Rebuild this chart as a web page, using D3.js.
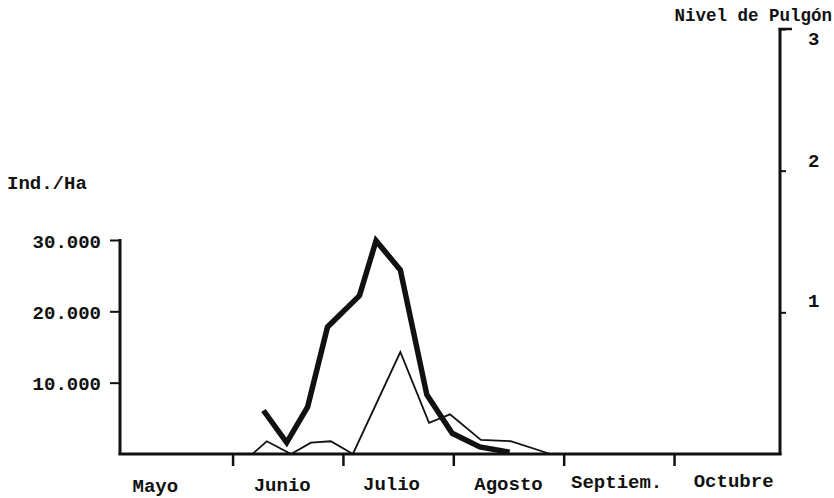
<!DOCTYPE html>
<html>
<head>
<meta charset="utf-8">
<script src="https://cdn.jsdelivr.net/npm/d3@7"></script>
<style>
  html, body { margin: 0; padding: 0; background: #fff; }
  svg { display: block; }
  text { font-family: "Liberation Mono", "DejaVu Sans Mono", monospace; font-weight: bold; fill: #111; }
</style>
</head>
<body>
<svg id="chart" width="834" height="498"></svg>
<script>
// ---- Data ----
const months = ["Mayo", "Junio", "Julio", "Agosto", "Septiem.", "Octubre"];
const monthTicks = [1, 2, 3, 4, 5];               // month boundaries (months since 1 May)
const leftTicks = [10000, 20000, 30000];
const leftTickLabels = ["10.000", "20.000", "30.000"];
const rightTicks = [1, 2, 3];
// thick line: Ind./Ha (x = months since start of May)
const thickX = [1.28, 1.49, 1.68, 1.86, 2.15, 2.30, 2.52, 2.76, 2.99, 3.24, 3.51];
const thickY = [6100, 1600, 6600, 17800, 22200, 29900, 25800, 8300, 2900, 1000, 250];
// thin line: Nivel de Pulgón
const thinX = [1.18, 1.31, 1.53, 1.71, 1.89, 2.09, 2.52, 2.78, 2.97, 3.25, 3.52, 3.88];
const thinY = [0, 0.09, 0, 0.08, 0.09, 0, 0.72, 0.22, 0.28, 0.10, 0.09, 0];

const svg = d3.select("#chart");

const x = d3.scaleLinear().domain([-0.02, 5.96]).range([120, 780]);
const yL = d3.scaleLinear().domain([0, 30000]).range([454, 240]);
const yR = d3.scaleLinear().domain([0, 3]).range([454, 29]);

const ink = "#111";

// left axis
const gL = svg.append("g").attr("transform", `translate(${x(-0.02)},0)`)
  .call(d3.axisLeft(yL).tickValues(leftTicks).tickSize(10).tickPadding(9)
    .tickFormat((d, i) => leftTickLabels[i]).tickSizeOuter(0));
gL.select(".domain").remove();
gL.selectAll(".tick line").attr("stroke", ink).attr("stroke-width", 2);
gL.selectAll(".tick text").attr("font-size", 19).attr("font-family", null).attr("dy", "0.38em");
svg.append("line").attr("x1", x(-0.02)).attr("x2", x(-0.02))
  .attr("y1", yL(30000) - 1).attr("y2", yL(0) + 1).attr("stroke", ink).attr("stroke-width", 3);

// right axis
const rightDy = [-6, -4, 15];
const gR = svg.append("g").attr("transform", `translate(${x(5.96)},0)`)
  .call(d3.axisRight(yR).tickValues(rightTicks).tickSize(6).tickPadding(22)
    .tickFormat(d3.format("d")).tickSizeOuter(0));
gR.select(".domain").remove();
gR.selectAll(".tick line").attr("stroke", ink).attr("stroke-width", 2);
gR.selectAll(".tick text").attr("font-size", 19).attr("font-family", null)
  .attr("dy", (d, i) => rightDy[i]);
svg.append("line").attr("x1", x(5.96)).attr("x2", x(5.96))
  .attr("y1", yR(3) - 1).attr("y2", yR(0) + 1).attr("stroke", ink).attr("stroke-width", 3);
svg.append("line").attr("x1", x(5.96) - 1.5).attr("x2", x(5.96) + 12)
  .attr("y1", yR(3)).attr("y2", yR(3)).attr("stroke", ink).attr("stroke-width", 2.5);

// bottom axis
const gB = svg.append("g").attr("transform", `translate(0,${yL(0)})`)
  .call(d3.axisBottom(x).tickValues(monthTicks).tickSize(12).tickFormat("").tickSizeOuter(0));
gB.select(".domain").remove();
gB.selectAll(".tick line").attr("stroke", ink).attr("stroke-width", 2.5);
svg.append("line").attr("x1", x(-0.02) - 1.5).attr("x2", x(5.96) + 1.5)
  .attr("y1", yL(0)).attr("y2", yL(0)).attr("stroke", ink).attr("stroke-width", 3);

// month labels
const labelOffsets = [-0.2, -0.05, -0.06, 0, -0.02, 0.04];
const labelY = [492, 491, 490, 490, 488, 487];
svg.append("g").selectAll("text").data(months).join("text")
  .attr("x", (d, i) => x(i + 0.5 + labelOffsets[i]))
  .attr("y", (d, i) => labelY[i])
  .attr("text-anchor", "middle").attr("font-size", 19)
  .text(d => d);

// titles
svg.append("text").attr("x", 7).attr("y", 189).attr("font-size", 19).text("Ind./Ha");
svg.append("text").attr("x", 832).attr("y", 21).attr("text-anchor", "end").attr("font-size", 17.5).text("Nivel de Pulgón");

// lines
const thinLine = d3.line().x(d => x(d[0])).y(d => yR(d[1]));
svg.append("path").datum(thinX.map((v, i) => [v, thinY[i]]))
  .attr("d", thinLine).attr("fill", "none").attr("stroke", ink).attr("stroke-width", 1.8)
  .attr("stroke-linejoin", "miter");

const thickLine = d3.line().x(d => x(d[0])).y(d => yL(d[1]));
svg.append("path").datum(thickX.map((v, i) => [v, thickY[i]]))
  .attr("d", thickLine).attr("fill", "none").attr("stroke", ink).attr("stroke-width", 5.5)
  .attr("stroke-linejoin", "miter");
</script>
</body>
</html>
